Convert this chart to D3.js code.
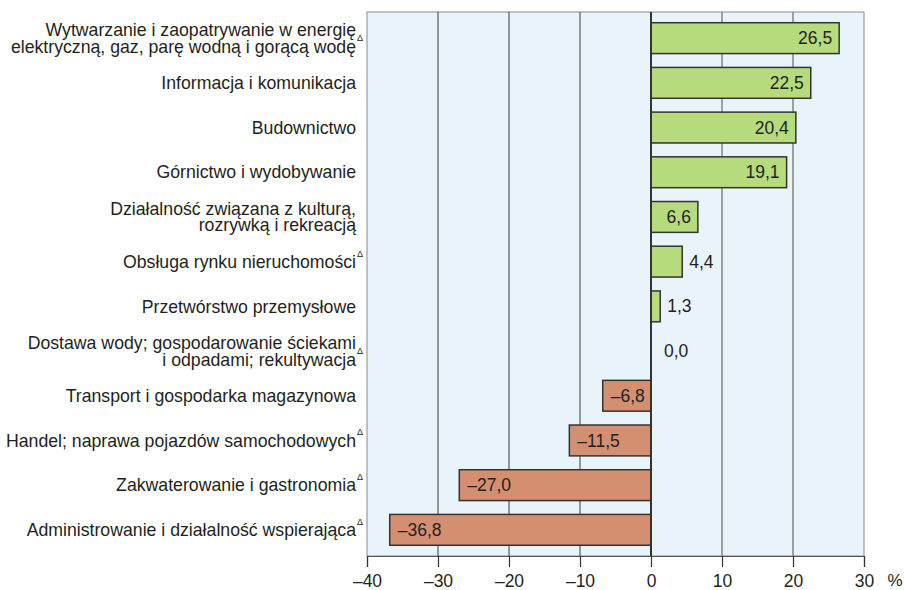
<!DOCTYPE html>
<html>
<head>
<meta charset="utf-8">
<script src="https://cdn.jsdelivr.net/npm/d3@7"></script>
<style>
  body { margin: 0; background: #fff; }
  text { font-family: "Liberation Sans", Arial, sans-serif; fill: #231f20; }
</style>
</head>
<body>
<div id="chart"></div>
<script>
// categories (\n = line break), delta marks, values in %
var categories = [
    "Wytwarzanie i zaopatrywanie w energię\nelektryczną, gaz, parę wodną i gorącą wodę",
    "Informacja i komunikacja",
    "Budownictwo",
    "Górnictwo i wydobywanie",
    "Działalność związana z kulturą,\nrozrywką i rekreacją",
    "Obsługa rynku nieruchomości",
    "Przetwórstwo przemysłowe",
    "Dostawa wody; gospodarowanie ściekami\ni odpadami; rekultywacja",
    "Transport i gospodarka magazynowa",
    "Handel; naprawa pojazdów samochodowych",
    "Zakwaterowanie i gastronomia",
    "Administrowanie i działalność wspierająca"
];
var marked = [true, false, false, false, false, true, false, true, false, true, true, true];
var values = [26.5, 22.5, 20.4, 19.1, 6.6, 4.4, 1.3, 0.0, -6.8, -11.5, -27.0, -36.8];
var tickValues = [-40, -30, -20, -10, 0, 10, 20, 30];

var width = 904, height = 590;
var plot = {left: 367, right: 864, top: 12, bottom: 556};

var svg = d3.select('#chart').append('svg')
    .attr('width', width)
    .attr('height', height);

var x = d3.scaleLinear().domain([-40, 30]).range([plot.left, plot.right]);
var y = d3.scaleBand()
    .domain(d3.range(categories.length))
    .range([plot.top, plot.bottom])
    .paddingInner(0.31)
    .paddingOuter(0.24);

function sign(v, s) {
    return (v < 0 ? '\u2013' : '') + s.replace('.', ',');
}
function fmt(v) { return sign(v, d3.format(".1f")(Math.abs(v))); }
function fmtTick(v) { return sign(v, String(Math.abs(v))); }

// background
svg.append('rect')
    .attr('x', plot.left).attr('y', plot.top)
    .attr('width', plot.right - plot.left)
    .attr('height', plot.bottom - plot.top)
    .attr('fill', '#e8f3fa')
    .attr('stroke', '#8a8a8a')
    .attr('stroke-width', 1);

// grid lines
svg.selectAll('.grid')
    .data(tickValues.filter(function (t) { return t !== 0 && t !== -40 && t !== 30; }))
    .enter().append('line')
    .attr('x1', function (d) { return x(d); })
    .attr('x2', function (d) { return x(d); })
    .attr('y1', plot.top).attr('y2', plot.bottom)
    .attr('stroke', function (d) { return d < 0 ? '#3a3a3a' : '#858585'; })
    .attr('stroke-width', function (d) { return d < 0 ? 1 : 1.5; });

// bottom axis
var axis = svg.append('g')
    .attr('transform', 'translate(0,' + plot.bottom + ')')
    .call(d3.axisBottom(x).tickValues(tickValues).tickSize(11).tickPadding(8).tickFormat(fmtTick));
axis.select('.domain').attr('stroke', '#555').attr('stroke-width', 1.2);
axis.selectAll('.tick line').attr('stroke', '#333').attr('stroke-width', 1.2);
axis.selectAll('.tick text')
    .attr('font-size', '17.5px')
    .attr('fill', '#231f20')
    .style('font-family', '"Liberation Sans", Arial, sans-serif');

svg.append('text')
    .attr('x', 895).attr('y', 586)
    .attr('text-anchor', 'middle')
    .attr('font-size', '17px')
    .text('%');

// bars
svg.selectAll('.bar')
    .data(values)
    .enter().append('rect')
    .attr('class', 'bar')
    .attr('x', function (d) { return x(Math.min(0, d)); })
    .attr('y', function (d, i) { return y(i); })
    .attr('width', function (d) { return Math.abs(x(d) - x(0)); })
    .attr('height', y.bandwidth())
    .attr('fill', function (d) { return d >= 0 ? '#b6db7d' : '#d48f70'; })
    .attr('stroke', '#333')
    .attr('stroke-width', function (d) { return d === 0 ? 0 : 1.5; });

// zero line
svg.append('line')
    .attr('x1', x(0)).attr('x2', x(0))
    .attr('y1', plot.top).attr('y2', plot.bottom)
    .attr('stroke', '#333')
    .attr('stroke-width', 2);

// value labels
svg.selectAll('.val')
    .data(values)
    .enter().append('text')
    .attr('class', 'val')
    .attr('font-size', '17.5px')
    .attr('dy', '0.35em')
    .attr('y', function (d, i) { return y(i) + y.bandwidth() / 2; })
    .attr('x', function (d) {
        if (d < 0) return x(d) + 8;
        if (d >= 6) return x(d) - 7;
        return Math.max(x(d) + 7, x(0) + 13);
    })
    .attr('text-anchor', function (d) { return d >= 6 ? 'end' : 'start'; })
    .text(fmt);

// category labels
var labels = svg.selectAll('.cat')
    .data(categories)
    .enter().append('g')
    .attr('class', 'cat')
    .attr('transform', function (d, i) { return 'translate(356,' + (y(i) + y.bandwidth() / 2) + ')'; });

labels.each(function (d, i) {
    var g = d3.select(this);
    var lines = d.split('\n');
    var lh = 16.5;
    var y0 = -(lines.length - 1) * lh / 2;
    lines.forEach(function (line, k) {
        g.append('text')
            .attr('x', 0)
            .attr('y', y0 + k * lh)
            .attr('dy', '0.35em')
            .attr('text-anchor', 'end')
            .attr('font-size', '17.7px')
            .text(line);
        if (marked[i] && k === lines.length - 1) {
            g.append('text')
                .attr('x', 1)
                .attr('y', y0 + k * lh - 5)
                .attr('font-size', '9px')
                .text('\u0394');
        }
    });
});
</script>
</body>
</html>
